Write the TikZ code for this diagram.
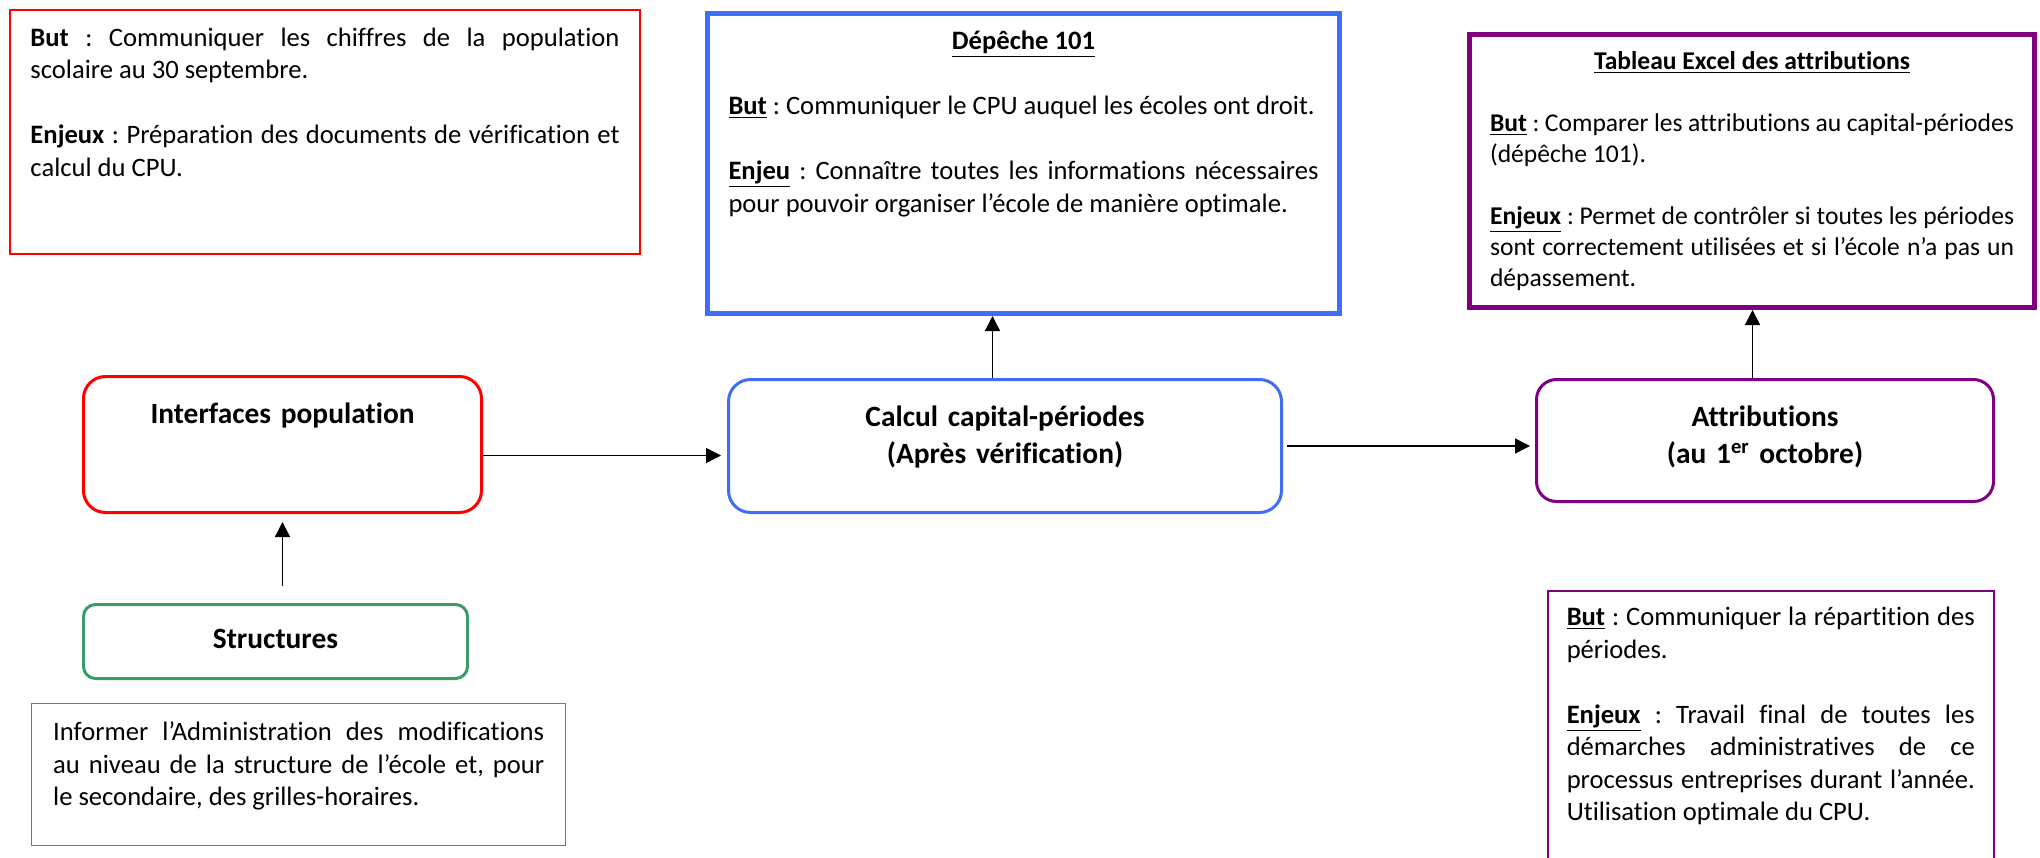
\documentclass[tikz,border=0pt]{standalone}
\usepackage{fontspec}
\setmainfont{Carlito}[Ligatures=NoCommon]
\usepackage{xcolor}
\usetikzlibrary{arrows.meta}
\definecolor{boxred}{HTML}{FF0000}
\definecolor{boxblue}{HTML}{3F6EF6}
\definecolor{boxpurple}{HTML}{800080}
\definecolor{boxgreen}{HTML}{3C9A68}
\frenchspacing

\begin{document}
\begin{tikzpicture}[
    x=0.5pt, y=-0.5pt,
    note/.style={draw, anchor=north west, inner ysep=0pt, align=justify, font={\fontsize{13.3}{16.25}\selectfont\hyphenpenalty=10000 \tolerance=9999 }},
    stage/.style={draw, rounded corners=#1, line width=1.5pt, anchor=north west, inner sep=0pt, align=center, font={\bfseries\fontsize{14.7}{18.5}\selectfont}},
    arrow/.style={-{Triangle[length=7.5pt,width=7.5pt]}, line width=0.7pt}
]
    \useasboundingbox (0,0) rectangle (2040,857);

    \node[note, draw=boxred, line width=1pt, text width=294.5pt, inner xsep=10.25pt, text height=18pt, text depth=104pt] (butpop) at (9,9) {\textbf{But} : Communiquer les chiffres de la population\linebreak scolaire au 30 septembre.\par\vspace{\baselineskip}\textbf{Enjeux} : Préparation des documents de vérification et\linebreak calcul du CPU.};
    \node[note, draw=boxblue, line width=2.5pt, text width=295pt, inner xsep=10.5pt, text height=18pt, text depth=132pt] (depeche) at (705,11) {\makebox[\linewidth]{\underline{\textbf{Dépêche 101}}}\par\vspace{\baselineskip}\underline{\textbf{But}} : Communiquer le CPU auquel les écoles ont droit.\par\vspace{\baselineskip}\underline{\textbf{Enjeu}} : Connaître toutes les informations nécessaires\linebreak pour pouvoir organiser l’école de manière optimale.};
    \node[note, draw=boxpurple, line width=2.5pt, text width=262pt, inner xsep=10.25pt, text height=17.25pt, text depth=119.25pt, font={\fontsize{12.8}{15.5}\selectfont\hyphenpenalty=10000 \tolerance=9999 }] (tableau) at (1467,32) {\makebox[\linewidth]{\underline{\textbf{Tableau Excel des attributions}}}\par\vspace{\baselineskip}\underline{\textbf{But}} : Comparer les attributions au capital-périodes\linebreak (dépêche 101).\par\vspace{\baselineskip}\underline{\textbf{Enjeux}} : Permet de contrôler si toutes les périodes\linebreak sont correctement utilisées et si l’école n’a pas un\linebreak dépassement.};

    \node[stage=11pt, draw=boxred, text width=199pt, text height=23.5pt, text depth=44.5pt] (interf) at (82,375) {Interfaces population};
    \node[stage=11pt, draw=boxblue, text width=276.5pt, text height=23.5pt, text depth=43pt] (calc) at (727,378) {Calcul capital-périodes\\(Après vérification)};
    \node[stage=10pt, draw=boxpurple, text width=228.5pt, text height=23.5pt, text depth=37.5pt] (attr) at (1535,378) {Attributions\\(au 1\textsuperscript{er} octobre)};
    \node[stage=6pt, draw=boxgreen, text width=192pt, text height=22pt, text depth=15pt] (struct) at (82,603) {Structures};

    \node[note, draw=boxgreen, line width=0.7pt, text width=245.5pt, inner xsep=10.75pt, text height=18.5pt, text depth=52.5pt] (informer) at (31,703) {Informer l’Administration des modifications\linebreak au niveau de la structure de l’école et, pour\linebreak le secondaire, des grilles-horaires.};
    \node[note, draw=boxpurple, line width=0.75pt, text width=204pt, inner xsep=9.5pt, text height=17.5pt, text depth=130pt] (repart) at (1547,590) {\underline{\textbf{But}} : Communiquer la répartition des\linebreak périodes.\par\vspace{\baselineskip}\underline{\textbf{Enjeux}} : Travail final de toutes les\linebreak démarches administratives de ce\linebreak processus entreprises durant l’année.\linebreak Utilisation optimale du CPU.};

    \draw[arrow, transform canvas={yshift=-5.5pt}, shorten >=3pt] (interf.east) -- (interf.east -| calc.west);
    \draw[arrow, shorten <=2pt, shorten >=2.5pt] (calc.east) -- (calc.east -| attr.west);
    \draw[arrow, transform canvas={xshift=-6.25pt}] (calc.north) -- (calc.north |- depeche.south);
    \draw[arrow, transform canvas={xshift=-6.25pt}] (attr.north) -- (attr.north |- tableau.south);
    \draw[arrow, shorten <=8.5pt, shorten >=4pt] (struct.north -| interf.south) -- (interf.south);
\end{tikzpicture}
\end{document}
